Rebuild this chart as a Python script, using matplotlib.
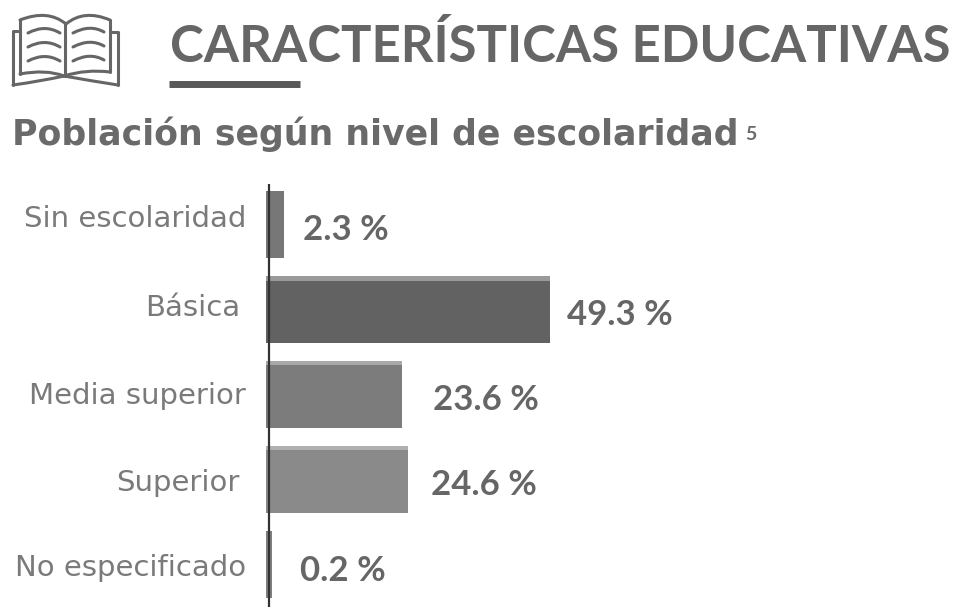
import matplotlib.pyplot as plt
from matplotlib.patches import Rectangle, PathPatch
from matplotlib.path import Path

W, H = 957, 607

categories = ['Sin escolaridad', 'Básica', 'Media superior', 'Superior', 'No especificado']
# bar lengths as measured on the picture, the printed labels differ a little for the short bars
bar_lengths = [3.1, 49.3, 23.6, 24.6, 1.0]
value_labels = ['2.3 %', '49.3 %', '23.6 %', '24.6 %', '0.2 %']
bar_colors = ['#777777', '#626262', '#7c7c7c', '#8a8a8a', '#808080']
top_colors = ['#777777', '#9a9a9a', '#a8a8a8', '#b0b0b0', '#808080']

title = 'CARACTERÍSTICAS EDUCATIVAS'
subtitle = 'Población según nivel de escolaridad'

label_right = [246, 240, 246, 239, 246]
label_y = [219, 308, 396, 483, 568]
value_x = [303, 567, 433, 431, 300]
value_y = [230, 315, 400, 485, 571]

plt.rcParams['font.family'] = ['Lato', 'DejaVu Sans']

fig = plt.figure(figsize=(W / 100, H / 100), dpi=100)

# bars
ax = fig.add_axes([266 / W, 0, 1 - 266 / W, (607 - 184) / H])
ax.set_xlim(0, (W - 266) / 5.76)
ax.set_ylim(4.5, -0.482)
for i in range(len(categories)):
    ax.barh(i, bar_lengths[i], height=0.79, color=bar_colors[i], linewidth=0)
    if top_colors[i] != bar_colors[i]:
        ax.add_patch(Rectangle((0, i - 0.395), bar_lengths[i], 0.05, color=top_colors[i], linewidth=0))
ax.axvline(0.5, color='#333333', lw=1.6)
ax.axis('off')

# overlay in pixel coordinates for texts and the icon
over = fig.add_axes([0, 0, 1, 1])
over.set_xlim(0, W)
over.set_ylim(H, 0)
over.axis('off')

for i in range(len(categories)):
    over.text(label_right[i], label_y[i], categories[i], ha='right', va='center', fontsize=21, color='#7a7a7a',
              family='DejaVu Sans')
    over.text(value_x[i], value_y[i], value_labels[i], ha='left', va='center', fontsize=25, fontweight='bold', color='#666666')

over.text(170, 47, title, ha='left', va='center', fontsize=36.6, fontweight='bold', color='#666666')
over.plot([169, 300], [83.5, 83.5], color='#595959', lw=5, solid_capstyle='butt')
over.text(12, 134, subtitle, ha='left', va='center', fontsize=25, fontweight='bold', color='#6a6a6a', family='DejaVu Sans')
over.text(745, 134, '5', ha='left', va='center', fontsize=14, fontweight='bold', color='#6a6a6a')

# book icon
c = '#666666'


def curve(p0, p1, p2):
    over.add_patch(PathPatch(Path([p0, p1, p2], [Path.MOVETO, Path.CURVE3, Path.CURVE3]),
                             fc='none', ec=c, lw=2.2, capstyle='round'))


def line(xs, ys):
    over.plot(xs, ys, color=c, lw=2.2, solid_capstyle='round', solid_joinstyle='round')


# back cover
line([20, 13, 13], [31, 31, 85])
line([110, 118, 118], [32, 32, 85])
curve((13, 85), (42, 81), (64, 76))
curve((64, 76), (92, 81), (118, 85))
# pages
line([20, 20], [20, 74])
line([110, 110], [20, 72])
curve((20, 20), (48, 9), (66, 24))
curve((66, 24), (84, 9), (110, 20))
curve((20, 74), (46, 69), (64, 76))
curve((64, 76), (86, 69), (110, 72))
line([65, 65], [24, 76])
# text lines
for y in [33, 47, 61]:
    curve((28, y), (45, y - 9), (60, y))
    curve((73, y), (90, y - 9), (104, y - 1))

fig.savefig('out.png', dpi=100)
